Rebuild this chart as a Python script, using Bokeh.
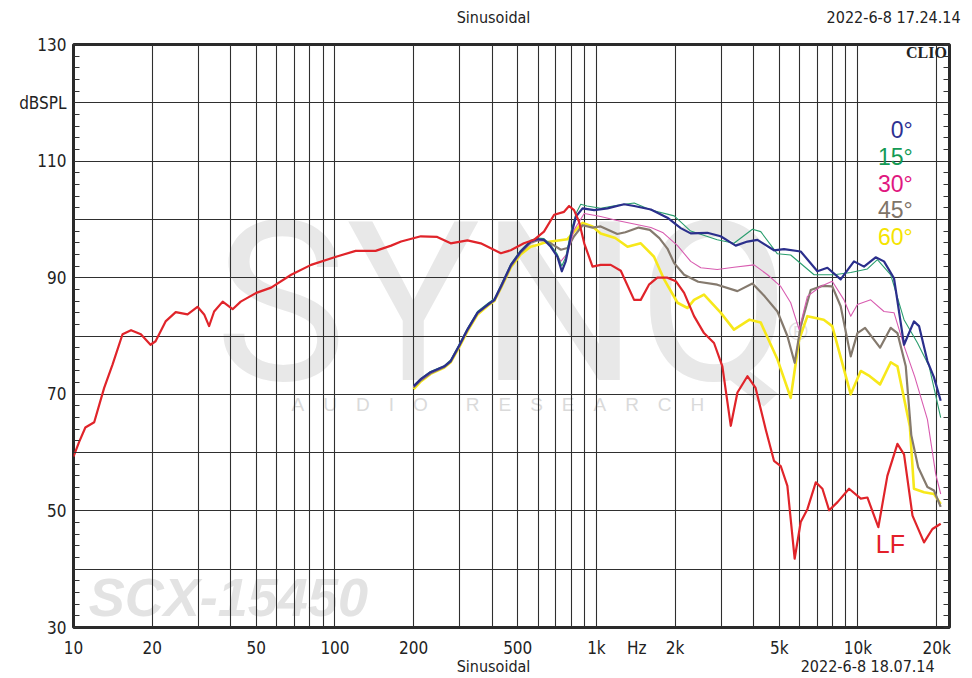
from bokeh.plotting import figure
from bokeh.models import Range1d, FixedTicker, LinearAxis, LogAxis, Label
from bokeh.core.properties import value
from bokeh.embed import file_html
from bokeh.resources import INLINE

# ---------------- data ----------------
x_ticks = [10, 20, 50, 100, 200, 500, 1000, 1426, 2000, 5000, 10000, 20000]
x_tick_labels = ["10", "20", "50", "100", "200", "500", "1k", "Hz", "2k", "5k", "10k", "20k"]
x_grid = [m * d for d in (10, 100, 1000, 10000) for m in range(1, 10) if m * d <= 20000]
y_ticks = [30, 50, 70, 90, 110, 120, 130]
y_tick_labels = ["30", "50", "70", "90", "110", "dBSPL", "130"]
top_text_pos = [404, 13690]
top_texts = ["Sinusoidal", "2022-6-8 17.24.14"]
bottom_text_pos = [404, 10900]
bottom_texts = ["Sinusoidal", "2022-6-8 18.07.14"]

lf_f = [10, 10.5, 11.1, 12.0, 13.1, 14.1, 15.4, 16.6, 18.1, 19.7, 20.6, 22.5, 24.6, 27.3, 29.8,
        31.6, 33.0, 34.5, 37.2, 40.6, 43.6, 50, 57, 68, 81, 101, 120, 143, 164, 179, 213, 246,
        277, 321, 361, 431, 470, 528, 577, 630, 689, 752, 786, 821, 858, 898, 966, 1038, 1134,
        1239, 1393, 1477, 1588, 1710, 1869, 2012, 2164, 2362, 2578, 2816, 3031, 3264, 3461,
        3779, 4061, 4438, 4775, 5067, 5373, 5728, 6043, 6409, 6900, 7316, 7762, 8356, 9251,
        10255, 10869, 11970, 12960, 14160, 15010, 16170, 17900, 19270, 20730]
lf_db = [59.3, 61.8, 64.3, 65.2, 71.1, 75.1, 80.3, 81.0, 80.3, 78.5, 79.1, 82.5, 84.1, 83.7, 85.0,
         83.7, 81.7, 84.2, 85.9, 84.6, 85.9, 87.4, 88.3, 90.5, 92.2, 93.6, 94.6, 94.6, 95.5, 96.2,
         97.1, 97.0, 95.9, 96.4, 95.9, 94.2, 94.7, 95.9, 96.5, 97.9, 100.8, 101.3, 102.3, 101.6,
         99.6, 95.9, 91.9, 92.2, 92.2, 91.2, 86.2, 86.2, 88.8, 90.0, 90.0, 89.4, 87.4, 83.4, 80.5,
         78.8, 74.8, 64.6, 70.3, 73.1, 71.1, 64.0, 58.6, 57.7, 54.3, 41.8, 48.1, 50.3, 54.9, 53.8,
         50.1, 51.5, 53.8, 52.1, 52.3, 47.2, 56.0, 61.5, 59.7, 49.2, 44.6, 46.9, 47.8]

a0_f = [200, 213, 232, 262, 277, 298, 321, 351, 384, 407, 431, 471, 513, 560, 594, 630, 669, 709,
        737, 763, 798, 835, 885, 980, 1102, 1275, 1394, 1615, 1868, 2100, 2293, 2655, 2985, 3409,
        3779, 4127, 4776, 5215, 6043, 6998, 7643, 8590, 9660, 10550, 11690, 12580, 13740, 15010,
        16380, 17130, 18440, 19540, 20730]
a0_db = [71.4, 72.6, 73.8, 74.8, 75.7, 78.3, 81.1, 84.0, 85.4, 86.2, 88.5, 92.2, 94.5, 96.2, 96.6,
         96.5, 95.3, 93.6, 91.1, 92.8, 97.1, 100.5, 101.9, 101.6, 101.9, 102.6, 102.3, 101.7, 100.3,
         98.5, 97.6, 97.7, 97.1, 95.5, 96.2, 96.5, 94.7, 94.9, 94.5, 91.1, 91.7, 89.7, 92.8, 91.9,
         93.5, 92.8, 89.9, 78.5, 82.5, 81.7, 75.7, 72.9, 68.9]

a15_f = [200, 213, 232, 262, 277, 298, 321, 351, 384, 407, 431, 471, 513, 560, 594, 630, 669, 709,
         737, 763, 798, 835, 871, 920, 1038, 1200, 1394, 1615, 1983, 2293, 2897, 3357, 3950, 4250,
         4922, 5533, 6795, 8106, 9386, 10873, 11870, 13350, 15010, 16900, 18720, 20730]
a15_db = [71.5, 72.7, 73.9, 74.9, 75.9, 78.5, 81.3, 84.2, 85.6, 86.4, 88.7, 92.4, 94.7, 96.4, 96.8,
          96.7, 95.6, 94.0, 92.0, 93.5, 97.8, 101.0, 102.6, 102.3, 101.9, 102.4, 102.8, 101.6, 100.6,
          98.0, 96.5, 95.9, 98.3, 97.9, 94.1, 93.9, 90.5, 90.5, 90.9, 91.5, 93.1, 90.5, 82.8, 78.8,
          74.8, 66.0]

a30_f = [200, 213, 232, 262, 277, 298, 321, 351, 384, 407, 431, 471, 513, 560, 594, 630, 669, 731,
         775, 821, 898, 1038, 1200, 1394, 1615, 1800, 2042, 2293, 2507, 2897, 3357, 4007, 4511,
         5067, 5533, 5960, 6409, 7193, 7977, 8845, 9386, 9957, 11190, 12580, 13740, 15010, 16500,
         18440, 19840, 20730]
a30_db = [71.3, 72.5, 73.7, 74.8, 75.7, 78.2, 81.0, 83.9, 85.4, 86.2, 88.4, 92.1, 94.4, 96.1, 96.5,
          96.4, 95.6, 92.8, 94.2, 98.2, 101.0, 100.5, 99.8, 99.2, 98.6, 97.7, 95.5, 92.8, 91.7, 91.4,
          91.8, 92.2, 90.5, 88.5, 85.7, 81.1, 86.8, 88.5, 89.4, 86.2, 83.4, 85.4, 86.2, 84.2, 84.0,
          78.3, 73.0, 65.7, 56.3, 52.9]

a45_f = [200, 213, 232, 262, 277, 298, 321, 351, 384, 407, 431, 471, 513, 560, 594, 630, 669, 731,
         775, 821, 885, 966, 1038, 1202, 1290, 1450, 1600, 1740, 1868, 1983, 2164, 2450, 2897, 3461,
         3950, 4400, 4922, 5373, 5728, 6043, 6600, 7316, 7977, 8590, 9386, 9957, 10650, 12150,
         13350, 14160, 15240, 16000, 17000, 18440, 19540, 20730]
a45_db = [71.2, 72.4, 73.6, 74.7, 75.6, 78.2, 81.0, 83.9, 85.3, 86.1, 88.3, 92.0, 94.3, 96.0, 96.4,
          96.4, 95.9, 94.8, 95.1, 97.1, 99.0, 98.6, 98.8, 97.5, 97.8, 98.6, 98.2, 96.8, 95.0, 92.5,
          90.5, 89.3, 88.8, 87.7, 89.0, 86.8, 84.2, 80.0, 75.4, 81.7, 87.9, 88.6, 88.5, 85.1, 76.5,
          80.5, 81.4, 78.0, 81.4, 80.5, 74.8, 63.0, 57.5, 54.1, 53.5, 50.7]

a60_f = [200, 213, 232, 262, 277, 298, 321, 351, 384, 407, 431, 471, 513, 560, 594, 630, 669, 775,
         821, 885, 966, 1038, 1180, 1315, 1477, 1660, 1815, 2042, 2230, 2362, 2578, 2985, 3357,
         3850, 4250, 4922, 5533, 5960, 6409, 7400, 7977, 9386, 10255, 11100, 12150, 13350, 14160,
         15800, 16380, 17900, 19540, 20730]
a60_db = [70.9, 72.2, 73.5, 74.6, 75.5, 78.0, 80.8, 83.7, 85.2, 86.0, 88.2, 91.8, 94.0, 95.3, 95.6,
          96.0, 96.2, 96.6, 97.9, 99.4, 98.8, 97.6, 96.8, 95.3, 95.9, 93.6, 89.7, 85.7, 84.8, 86.2,
          87.1, 84.0, 81.1, 82.8, 82.3, 76.0, 69.4, 79.4, 83.4, 82.8, 81.7, 70.0, 74.0, 73.1, 71.7,
          75.5, 74.8, 64.5, 53.8, 53.2, 52.9, 51.2]

legend_labels = ["0°", "15°", "30°", "45°", "60°"]
legend_colors = ["#2e3192", "#149a55", "#e0177f", "#7f7468", "#f5e400"]

# ---------------- figure ----------------
FONT = "DejaVu Sans Condensed"
TXT = "#222222"
p = figure(width=964, height=678, x_axis_type="log",
           x_range=Range1d(10, 22400), y_range=Range1d(30, 130),
           output_backend="svg", toolbar_location=None,
           min_border_left=73, min_border_right=15, min_border_top=44, min_border_bottom=49,
           background_fill_color="white", border_fill_color="white")

p.outline_line_color = "#2a2a2a"
p.outline_line_width = 3

# grids
p.xgrid.ticker = FixedTicker(ticks=x_grid)
p.ygrid.ticker = FixedTicker(ticks=list(range(30, 131, 10)))
for g in (p.xgrid, p.ygrid):
    g.grid_line_color = "#2f2f2f"
    g.grid_line_width = 1.1


def style_text_axis(ax, standoff, size):
    ax.axis_line_color = None
    ax.major_tick_line_color = None
    ax.minor_tick_line_color = None
    ax.major_tick_in = 0
    ax.major_tick_out = 0
    ax.major_label_standoff = standoff
    ax.major_label_text_font = FONT
    ax.major_label_text_font_size = size
    ax.major_label_text_color = TXT


# x axis
xa = p.xaxis[0]
xa.ticker = FixedTicker(ticks=x_ticks)
xa.major_label_overrides = {t: l for t, l in zip(x_ticks, x_tick_labels)}
style_text_axis(xa, 10, "17px")

# second bottom axis: footer texts
xb = LogAxis(ticker=FixedTicker(ticks=bottom_text_pos),
             major_label_overrides={t: l for t, l in zip(bottom_text_pos, bottom_texts)})
style_text_axis(xb, -4, "16px")
p.add_layout(xb, "below")

# top axis: header texts
xt = LogAxis(ticker=FixedTicker(ticks=top_text_pos),
             major_label_overrides={t: l for t, l in zip(top_text_pos, top_texts)})
style_text_axis(xt, 18, "16px")
p.add_layout(xt, "above")

# y axis (left)
ya = p.yaxis[0]
ya.ticker = FixedTicker(ticks=y_ticks, minor_ticks=list(range(30, 131, 2)))
ya.major_label_overrides = {t: l for t, l in zip(y_ticks, y_tick_labels)}
style_text_axis(ya, 7, "17px")
ya.minor_tick_in = 6
ya.minor_tick_out = 0
ya.minor_tick_line_color = "#333333"
ya.minor_tick_line_width = 1.2

# right axis with inward minor ticks
ra = LinearAxis(ticker=FixedTicker(ticks=[], minor_ticks=list(range(30, 131, 2))),
                axis_line_color=None, major_tick_in=0, major_tick_out=0,
                minor_tick_in=6, minor_tick_out=0, minor_tick_line_color="#333333",
                minor_tick_line_width=1.2, major_label_text_font_size="0px")
p.add_layout(ra, "right")

# watermarks (below grid)
wm = p.text(x=[439], y=[85.5], text=["SYNQ"], text_align="center", text_baseline="middle",
            text_font=value("Roboto"), text_font_size="222px", text_color="#e8e8e8")
wm.level = "image"
wm2 = p.text(x=[420], y=[68.3],
             text=["A\u2003U\u2003D\u2003I\u2003O\u2003\u2003R\u2003E\u2003S\u2003E\u2003A\u2003R\u2003C\u2003H"],
             text_align="center", text_baseline="middle", text_font=value("Liberation Sans"),
             text_font_size="19px", text_color="#dadada")
wm2.level = "image"
wm3 = p.text(x=[5900], y=[80.8], text=["®"], text_align="center", text_baseline="middle",
             text_font=value("Liberation Sans"), text_font_size="26px", text_color="#e0e0e0")
wm3.level = "image"
wm4 = p.text(x=[11.44], y=[35.3], text=["SCX-15450"], text_align="left", text_baseline="middle",
             text_font=value("Liberation Sans"), text_font_style="bold italic",
             text_font_size="54px", text_color="#e3e3e3")
wm4.level = "image"

# curves
p.line(a60_f, a60_db, line_color="#f7e81a", line_width=2.6, line_join="round")
p.line(a45_f, a45_db, line_color="#857a6e", line_width=2.2, line_join="round")
p.line(a30_f, a30_db, line_color="#d85cb0", line_width=1.1, line_join="round")
p.line(a15_f, a15_db, line_color="#2a9e6e", line_width=1.1, line_join="round")
p.line(a0_f, a0_db, line_color="#2b2f8c", line_width=2.2, line_join="round")
p.line(lf_f, lf_db, line_color="#e0242a", line_width=2.2, line_join="round")

# legend texts
leg_y = [115.3, 110.7, 106.1, 101.6, 97.0]
p.text(x=[16200] * 5, y=leg_y, text=legend_labels, text_color=legend_colors,
       text_align="right", text_baseline="middle", text_font=value("Liberation Sans"),
       text_font_size="23px")
p.text(x=[11700], y=[44.4], text=["LF"], text_color="#e3202a", text_align="left",
       text_baseline="middle", text_font=value("Liberation Sans"), text_font_size="25px")

# CLIO mark inside the frame
p.add_layout(Label(x=21900, y=128.6, text="CLIO", text_align="right", text_baseline="middle",
                   text_font="Liberation Serif", text_font_style="bold", text_font_size="16px",
                   text_color=TXT))

open("out.html", "w").write(file_html(p, INLINE))
